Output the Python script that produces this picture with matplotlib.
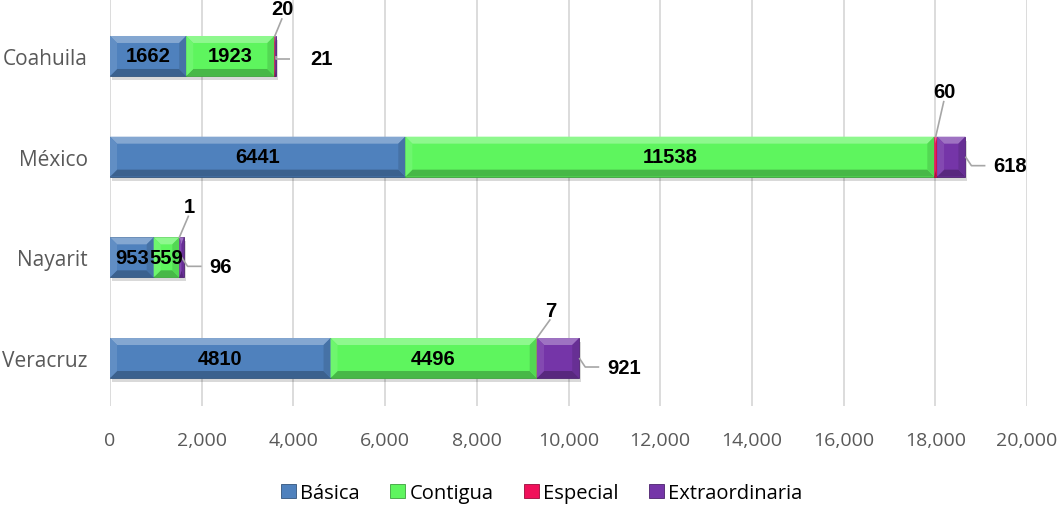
import matplotlib.pyplot as plt
from matplotlib.patches import Polygon, Rectangle
from matplotlib.ticker import FuncFormatter
import numpy as np

estados = ["Coahuila", "México", "Nayarit", "Veracruz"]
basica = [1662, 6441, 953, 4810]
contigua = [1923, 11538, 559, 4496]
especial = [20, 60, 1, 7]
extraordinaria = [21, 618, 96, 921]

series = [("Básica", basica, "#4f81bd"),
          ("Contigua", contigua, "#5ef55e"),
          ("Especial", especial, "#f0105a"),
          ("Extraordinaria", extraordinaria, "#7535a8")]

# label placement (pixels) for the small segments
esp_off = [(8, -27), (9, -45), (10, -31), (14, -28)]
ext_gap = [20, 8, 8, 8]

plt.rcParams['font.family'] = ['Open Sans', 'DejaVu Sans']

fig = plt.figure(figsize=(10.62, 5.06), dpi=100)
ax = fig.add_axes([110 / 1062, 1 - 407 / 506, 917 / 1062, 407 / 506])

xmax = 20000
step = 100.7  # px between bars
ax.set_xlim(0, xmax)
ax.set_ylim(3 + (407 - 359) / step, -57 / step)
h = 40 / step

# pixel -> data conversion for the bevel
px_x = xmax / 917
px_y = 1 / step
bev = 7


def shade(c, f):
    c = np.array(plt.matplotlib.colors.to_rgb(c))
    if f > 0:
        return tuple(c + (1 - c) * f)
    return tuple(c * (1 + f))


def bevel_bar(x0, w, y, color):
    if w <= 0:
        return
    x1 = x0 + w
    y0, y1 = y - h / 2, y + h / 2
    # shadow
    ax.add_patch(Rectangle((x0 + 2 * px_x, y0 + 4 * px_y), w, h, color="#000000",
                           alpha=0.15, lw=0, zorder=2))
    ax.add_patch(Rectangle((x0, y0), w, h, facecolor=color, edgecolor=shade(color, -0.35),
                           lw=0.6, zorder=3))
    bx = min(bev * px_x, w / 2)
    by = bev * px_y
    top = [(x0, y0), (x1, y0), (x1 - bx, y0 + by), (x0 + bx, y0 + by)]
    bot = [(x0, y1), (x1, y1), (x1 - bx, y1 - by), (x0 + bx, y1 - by)]
    lef = [(x0, y0), (x0 + bx, y0 + by), (x0 + bx, y1 - by), (x0, y1)]
    rig = [(x1, y0), (x1 - bx, y0 + by), (x1 - bx, y1 - by), (x1, y1)]
    ax.add_patch(Polygon(top, closed=True, facecolor=shade(color, 0.3), lw=0, zorder=4))
    ax.add_patch(Polygon(bot, closed=True, facecolor=shade(color, -0.25), lw=0, zorder=4))
    ax.add_patch(Polygon(lef, closed=True, facecolor=shade(color, 0.1), lw=0, zorder=4))
    ax.add_patch(Polygon(rig, closed=True, facecolor=shade(color, -0.12), lw=0, zorder=4))


left = np.zeros(len(estados))
ends = []
for name, vals, col in series:
    for i, v in enumerate(vals):
        bevel_bar(left[i], v, i, col)
    ends.append(left.copy())
    left = left + np.array(vals)

lab = dict(fontsize=14.5, fontweight="bold", family="Liberation Sans", color="black", zorder=6)
lc = "#a6a6a6"
inv = ax.transData.inverted()

# labels inside bars for Básica and Contigua
for k in range(2):
    vals = series[k][1]
    for i, v in enumerate(vals):
        ax.text(ends[k][i] + v / 2, i, str(v), ha="center", va="center", **lab)

# Especial labels above with leader line
for i, v in enumerate(especial):
    xs = ends[2][i] + v / 2
    p0 = ax.transData.transform((xs, i - h / 2))
    dx, dy = esp_off[i]
    pt = p0 + np.array([dx, -dy])
    p1 = pt + np.array([-1, -10])
    pts = inv.transform(np.array([p0, p1, pt]))
    ax.plot(pts[:2, 0], pts[:2, 1], color=lc, lw=1.2, zorder=5)
    ax.text(pts[2, 0], pts[2, 1], str(v), ha="center", va="center", **lab)

# Extraordinaria labels to the right with leader line
for i, v in enumerate(extraordinaria):
    xe = ends[3][i] + v
    xm = ends[3][i] + v / 2
    x0 = xe if v > 300 else xm
    p0 = ax.transData.transform((x0, i))
    p1 = p0 + np.array([6, -9]) if v > 50 else p0 + np.array([0, -3])
    p2 = p1 + np.array([14, 0])
    pts = inv.transform(np.array([p0, p1, p2]))
    ax.plot(pts[:, 0], pts[:, 1], color=lc, lw=1.2, zorder=5, solid_capstyle="butt")
    ax.text(pts[2, 0] + ext_gap[i] * px_x, pts[2, 1], str(v), ha="left", va="center", **lab)

ax.set_yticks(range(len(estados)))
ax.set_yticklabels(estados)
ax.set_xticks(np.arange(0, xmax + 1, 2000))
ax.xaxis.set_major_formatter(FuncFormatter(lambda x, p: f"{int(x):,}"))
ax.tick_params(axis="both", length=0, labelsize=14, colors="#595959")
ax.tick_params(axis="y", labelsize=15, pad=16)
ax.tick_params(axis="x", pad=18)
ax.grid(axis="x", color="#d9d9d9", lw=1.3, zorder=0)
ax.set_axisbelow(True)
for s in ax.spines.values():
    s.set_visible(False)

handles = [Rectangle((0, 0), 1, 1, facecolor=c, edgecolor=shade(c, -0.35), lw=0.6)
           for _, _, c in series]
fig.legend(handles, [n for n, _, _ in series], loc="center", bbox_to_anchor=(0.51, 1 - 494 / 506),
           ncol=4, frameon=False, fontsize=14.5, handlelength=0.75, handleheight=0.75,
           handletextpad=0.2, columnspacing=1.5)

fig.savefig("out.png", dpi=100)
